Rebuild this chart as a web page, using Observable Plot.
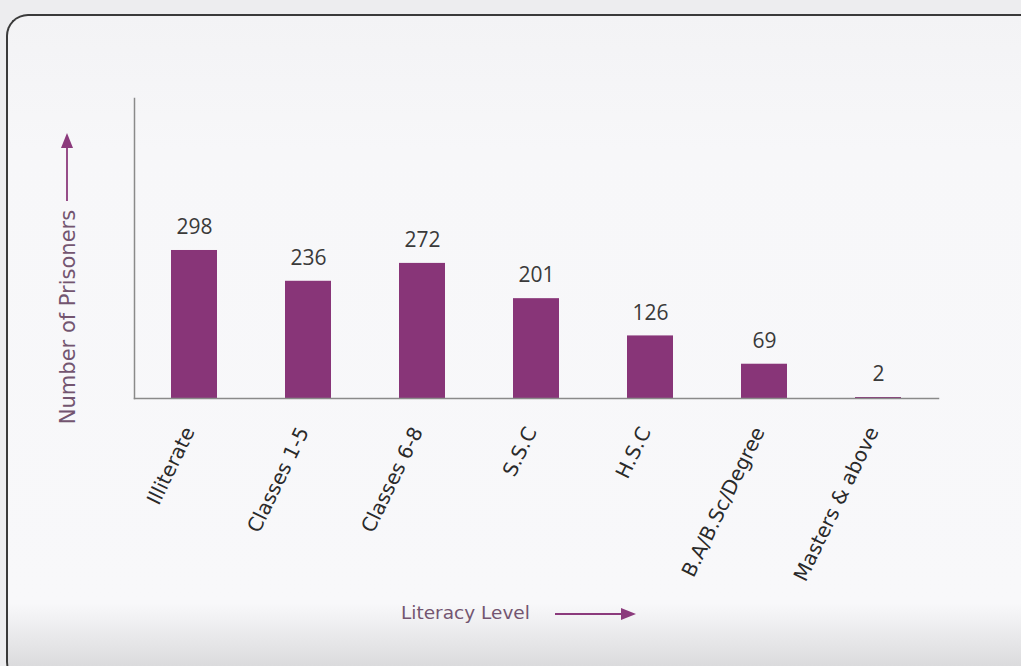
<!DOCTYPE html>
<html><head><meta charset="utf-8">
<script src="https://cdn.jsdelivr.net/npm/d3@7"></script>
<script src="https://cdn.jsdelivr.net/npm/@observablehq/plot@0.6"></script>
<style>
html,body{margin:0;padding:0;width:1021px;height:666px;overflow:hidden;background:#ededef;}
#card{position:absolute;left:6px;top:14px;width:1040px;height:670px;border-radius:22px;border:2px solid #3a3a3a;border-right-color:#b0b0b0;border-bottom:none;
  background:linear-gradient(180deg,#f3f3f5 0%,#f7f7f9 20%,#f8f8fa 88%,#dcdcde 97%,#d4d4d6 100%);box-sizing:border-box;}
#chart{position:absolute;left:0;top:0;}
.title{position:absolute;font-family:"DejaVu Sans",sans-serif;color:#735570;white-space:nowrap;}
#ytitle{left:68px;top:317px;font-size:21px;transform:translate(-50%,-50%) rotate(-90deg);}
#xtitle{left:401px;top:602px;font-size:18.5px;}
svg.arrow{position:absolute;overflow:visible;}
</style></head><body>
<div id="card"></div>
<div id="chart"></div>
<div class="title" id="ytitle">Number of Prisoners</div>
<div class="title" id="xtitle">Literacy Level</div>
<svg class="arrow" style="left:0;top:0" width="1021" height="666">
  <line x1="67" y1="201" x2="67" y2="146" stroke="#8b3a7c" stroke-width="1.8"/>
  <path d="M61,148 L67,133 L73,148 Z" fill="#8b3a7c"/>
  <line x1="555" y1="614" x2="624" y2="614" stroke="#8b3a7c" stroke-width="1.8"/>
  <path d="M621,608 L636,614 L621,620 Z" fill="#8b3a7c"/>
</svg>
<script>
const categories = ["Illiterate","Classes 1-5","Classes 6-8","S.S.C","H.S.C","B.A/B.Sc/Degree","Masters & above"];
const prisoners = [298,236,272,201,126,69,2];
const data = categories.map((c,i)=>({level:c, count:prisoners[i]}));
const plot = Plot.plot({
  width:1021, height:666, marginLeft:134, marginRight:83, marginTop:98, marginBottom:268,
  style:{background:"transparent", fontFamily:"DejaVu Sans, sans-serif", fontSize:"20px", color:"#2a2a2a"},
  x:{domain:categories, paddingInner:0.6, paddingOuter:0.3, label:null},
  y:{domain:[0,604], axis:null},
  marks:[
    Plot.barY(data,{x:"level", y:"count", fill:"#883578"}),
    Plot.text(data,{x:"level", y:"count", text:d=>String(d.count), dy:-23, fontSize:21, fill:"#3a3a3a", fontFamily:"Open Sans"}),
    Plot.axisX({tickRotate:-64, tickSize:0, tickPadding:30, dx:-5, label:null, fontSize:20, fill:"#2a2a2a"}),
    Plot.frame({anchor:"left", stroke:"#8a8a8a", strokeWidth:1.5}),
    Plot.frame({anchor:"bottom", stroke:"#8a8a8a", strokeWidth:1.5})
  ]
});
document.getElementById("chart").appendChild(plot);
</script>
</body></html>
